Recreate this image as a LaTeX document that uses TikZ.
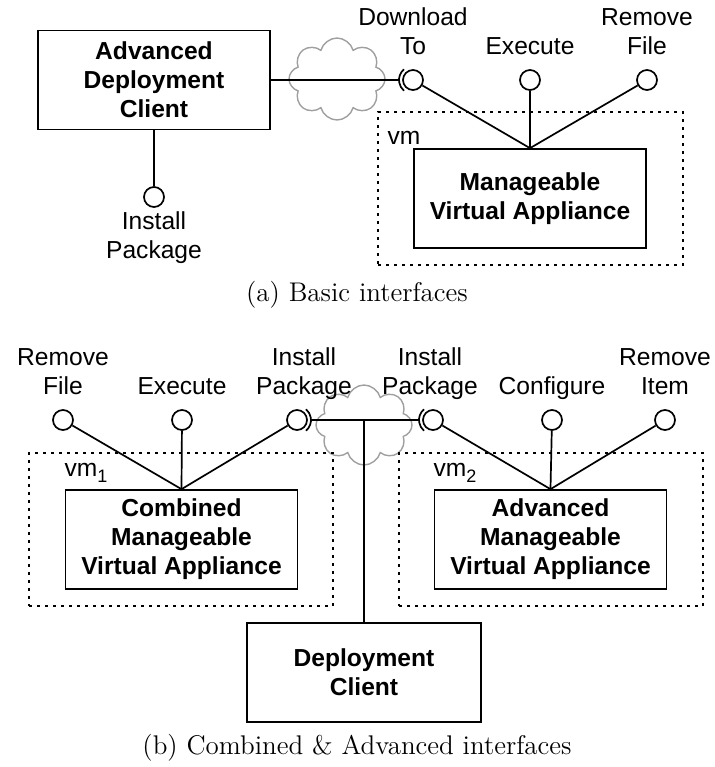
\documentclass[tikz,border=0pt]{standalone}
\usepackage{fontspec}
\setsansfont{Liberation Sans}
\usetikzlibrary{positioning, shapes.symbols, calc}
\newcommand\ifacefont{\fontsize{12.3}{14.5}\selectfont}
\newcommand\capfont{\fontsize{13.5}{15}\selectfont}
\newcommand\vmsub[1]{\raisebox{-3pt}{\fontsize{9}{9}\selectfont #1}}

\begin{document}
\begin{tikzpicture}[x=0.5pt, y=-0.5pt,
      comp/.style={draw, line width=0.85pt, align=center, inner sep=0pt,
        font=\sffamily\bfseries\ifacefont,
        minimum width=116pt, minimum height=49.5pt},
      ball/.style={draw, circle, line width=0.85pt, inner sep=0pt,
        minimum size=10pt},
      lbl/.style={align=center, inner sep=0pt, font=\sffamily\ifacefont},
      vmbox/.style={draw, line width=0.85pt, dash pattern=on 1.5pt off 2.5pt,
        inner sep=0pt},
      wolke/.style={draw=gray!75, cloud, cloud puffs=8, cloud ignores aspect,
        line width=0.7pt, inner sep=0pt},
      verb/.style={line width=0.85pt}]
    \useasboundingbox (0,0) rectangle (714,767);

    % (a) basic interfaces
    \node[wolke, minimum width=48pt, minimum height=41pt] (cloudA) at (337,79) {};
    \node[comp] (adc) at (154,80) {Advanced\\Deployment\\Client};
    \node[vmbox, minimum width=152.5pt, minimum height=76.5pt] (vm) at (530.5,188.5) {};
    \node[comp] (mva) at (530,198.5) {Manageable\\Virtual Appliance};
    \node[lbl, anchor=base west] at ([xshift=5pt, yshift=-16.5pt]vm.north west) {vm};

    \node[ball] (ipA) at (154,197) {};
    \node[ball] (dl) at (413,80) {};
    \node[ball] (exA) at (530,80) {};
    \node[ball] (rfA) at (647,80) {};
    \node[lbl, below=0.5pt of ipA] {\strut Install\\Package};
    \node[lbl, above=3pt of dl] {Download\\To\strut};
    \node[lbl, above=3pt of exA] {Execute\strut};
    \node[lbl, above=3pt of rfA] {Remove\\File\strut};

    \coordinate (dlsock) at ([xshift=-7pt]dl.center);
    \draw[verb] ([shift={(130:7pt)}]dl.center) arc[start angle=130, end angle=230, radius=7pt];
    \draw[verb] (adc) -- (dlsock);
    \draw[verb] (adc) -- (ipA);
    \foreach \b in {dl, exA, rfA}
      \draw[verb] (\b) -- (mva.north);

    \node[font=\capfont] (capA) at (357,295) {(a) Basic interfaces};

    % (b) combined & advanced interfaces
    \node[wolke, minimum width=48pt, minimum height=40pt] (cloudB) at (364,425) {};
    \node[vmbox, minimum width=152pt, minimum height=76.5pt] (vmA) at (181,529.5) {};
    \node[vmbox, minimum width=152pt, minimum height=76.5pt] (vmB) at (551,529.5) {};
    \node[comp] (cmva) at (181.5,539.5) {Combined\\Manageable\\Virtual Appliance};
    \node[comp] (amva) at (550.5,539.5) {Advanced\\Manageable\\Virtual Appliance};
    \node[comp, minimum width=117pt] (dc) at (364,672.5) {Deployment\\Client};
    \node[lbl, anchor=base west] at ([xshift=18pt, yshift=-12pt]vmA.north west) {vm\vmsub{1}};
    \node[lbl, anchor=base west] at ([xshift=17.5pt, yshift=-12pt]vmB.north west) {vm\vmsub{2}};

    \node[ball] (rfB) at (63,420) {};
    \node[ball] (exB) at (182,420) {};
    \node[ball] (ipB) at (297,420) {};
    \node[ball] (ipC) at (433,420) {};
    \node[ball] (cfC) at (552,420) {};
    \node[ball] (riC) at (665,420) {};
    \node[lbl, above=3pt of rfB] {Remove\\File\strut};
    \node[lbl, above=3pt of exB] {Execute\strut};
    \node[lbl, above=3pt of ipB, xshift=3.5pt] {Install\\Package\strut};
    \node[lbl, above=3pt of ipC, xshift=-1.5pt] {Install\\Package\strut};
    \node[lbl, above=3pt of cfC] {Configure\strut};
    \node[lbl, above=3pt of riC] {Remove\\Item\strut};

    \coordinate (sockB) at ([xshift=7pt]ipB.center);
    \coordinate (sockC) at ([xshift=-7pt]ipC.center);
    \coordinate (jn) at (364,420);
    \draw[verb] ([shift={(-50:7pt)}]ipB.center) arc[start angle=-50, end angle=50, radius=7pt];
    \draw[verb] ([shift={(130:7pt)}]ipC.center) arc[start angle=130, end angle=230, radius=7pt];
    \draw[verb] (sockB) -- (sockC);
    \draw[verb] (jn) -- (dc.north);
    \foreach \b in {rfB, exB, ipB}
      \draw[verb] (\b) -- (cmva.north);
    \foreach \b in {ipC, cfC, riC}
      \draw[verb] (\b) -- (amva.north);

    \node[font=\capfont] (capB) at (357,748) {(b) Combined \& Advanced interfaces};
  \end{tikzpicture}
\end{document}
